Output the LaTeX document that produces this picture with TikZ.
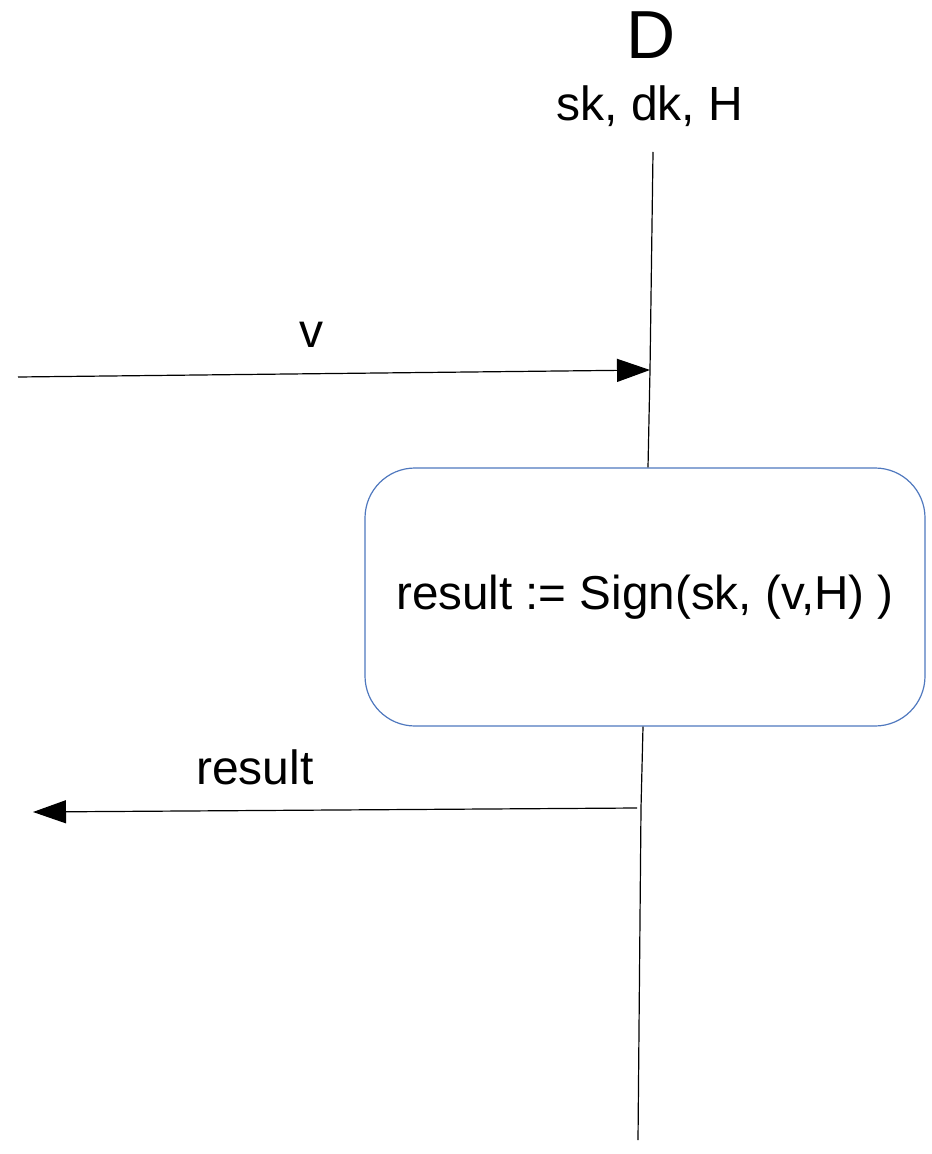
\documentclass[tikz,border=0pt]{standalone}
\usepackage{fontspec}
\setmainfont{Liberation Sans}
\usetikzlibrary{arrows.meta}
\definecolor{actblue}{RGB}{79,120,190}

\begin{document}
\begin{tikzpicture}[x=0.5pt,y=-0.5pt,
	msg/.style = {-{Triangle[length=16.5pt,width=11.5pt]},line width=0.6pt},
	life/.style = {line width=0.6pt},
	act node/.style = {draw=actblue,rounded corners=25pt,minimum width=280pt,
		minimum height=129pt,line width=0.6pt,font=\fontsize{23.8}{28}\selectfont},
	lbl/.style = {inner sep=0pt,font=\fontsize{24}{28}\selectfont}]
	
	\useasboundingbox (0,0) rectangle (931,1154);
	
	% the party and what it holds
	\node[inner sep=0pt,font=\fontsize{34}{40}\selectfont] (D) at (651,35) {D};
	\node[inner sep=0pt,font=\fontsize{24}{28}\selectfont] (keys) at (650,106) {sk, dk, H};
	
	% its lifeline, cut by the signing step
	\node[act node] (sign) at (645,597) {result := Sign(sk, (v,H) )};
	\coordinate (top) at (653,152);
	\coordinate (in) at (650,370);
	\coordinate (out) at (641,808);
	\coordinate (bottom) at (638,1140);
	\draw[life] (top) -- (in) -- (sign.north -| 648,0);
	\draw[life] (sign.south -| 643,0) -- (out) -- (bottom);
	
	% messages
	\coordinate (vsrc) at (18,377);
	\coordinate (rdst) at (33,812);
	\draw[msg] (vsrc) -- (in);
	\draw[msg] (637,808) coordinate (rsrc) -- (rdst);
	\node[lbl] (vlbl) at (311,335) {v};
	\node[lbl] (rlbl) at (255,767) {result};
\end{tikzpicture}
\end{document}
